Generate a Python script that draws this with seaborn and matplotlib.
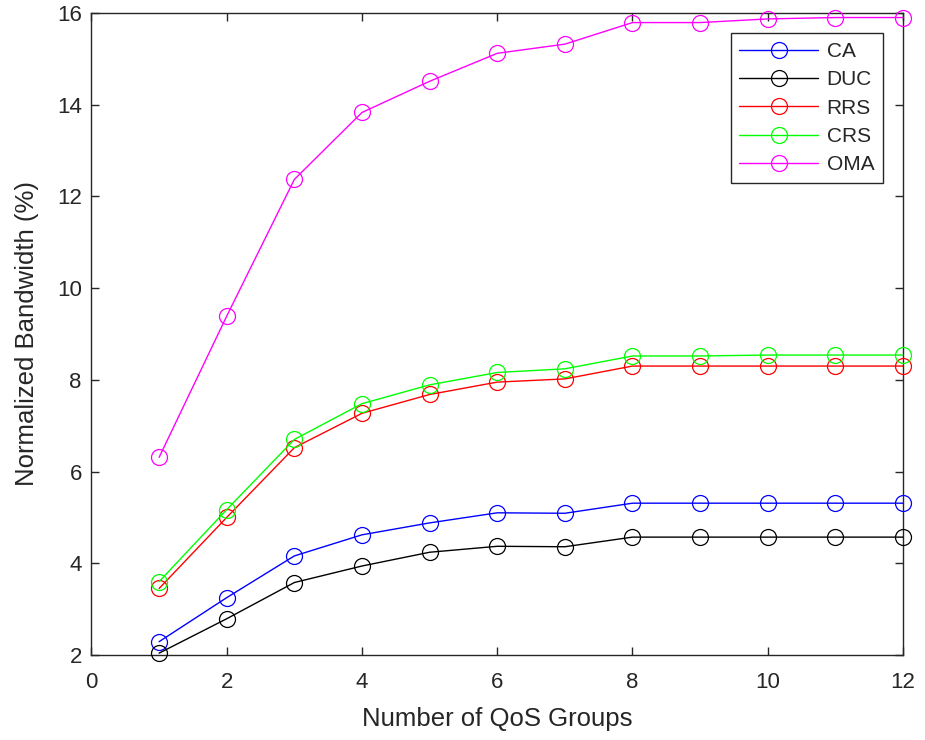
import numpy as np
import pandas as pd
import matplotlib
matplotlib.use("Agg")
import matplotlib.pyplot as plt
import seaborn as sns

groups = [1, 2, 3, 4, 5, 6, 7, 8, 9, 10, 11, 12]
ca  = [2.29, 3.25, 4.16, 4.62, 4.88, 5.10, 5.09, 5.31, 5.31, 5.31, 5.31, 5.31]
duc = [2.04, 2.79, 3.58, 3.94, 4.24, 4.37, 4.36, 4.57, 4.57, 4.57, 4.57, 4.57]
rrs = [3.45, 5.00, 6.52, 7.27, 7.68, 7.95, 8.02, 8.30, 8.30, 8.30, 8.30, 8.30]
crs = [3.60, 5.17, 6.70, 7.48, 7.89, 8.16, 8.24, 8.52, 8.52, 8.54, 8.54, 8.54]
oma = [6.31, 9.39, 12.37, 13.83, 14.51, 15.12, 15.32, 15.79, 15.79, 15.87, 15.90, 15.90]

names = ["CA", "DUC", "RRS", "CRS", "OMA"]
series = [ca, duc, rrs, crs, oma]
colors = ["#0000ff", "#000000", "#ff0000", "#00ff00", "#ff00ff"]

xlabel = "Number of QoS Groups"
ylabel = "Normalized Bandwidth (%)"

df = pd.DataFrame({
    "groups": np.tile(groups, len(names)),
    "value": np.concatenate(series),
    "method": np.repeat(names, len(groups)),
})

sns.set_theme(style="ticks")
plt.rcParams["font.family"] = ["Liberation Sans", "DejaVu Sans"]
plt.rcParams["axes.edgecolor"] = "#262626"
plt.rcParams["xtick.color"] = "#262626"
plt.rcParams["ytick.color"] = "#262626"

fig = plt.figure(figsize=(9.25, 7.4), dpi=100)
ax = fig.add_axes([0.0989, 0.1149, 0.8773, 0.8676])

for name, c in zip(names, colors):
    sub = df[df["method"] == name]
    sns.lineplot(data=sub, x="groups", y="value", ax=ax, color=c, label=name,
                 marker="o", markersize=11.5, markerfacecolor="none",
                 markeredgecolor=c, markeredgewidth=0.9, linewidth=1.0,
                 clip_on=False)

ax.set_xlim(0, 12)
ax.set_ylim(2, 16)
ax.set_xticks(range(0, 13, 2))
ax.set_yticks(range(2, 17, 2))
ax.tick_params(direction="in", length=6, width=1, top=True, right=True,
               labelsize=16, labelcolor="#262626")
ax.tick_params(axis="x", pad=12)
ax.tick_params(axis="y", pad=7)
for s in ax.spines.values():
    s.set_linewidth(1.0)
    s.set_zorder(0.5)
ax.set_xlabel(xlabel, fontsize=18.5, color="#262626", labelpad=10)
ax.set_ylabel(ylabel, fontsize=18.5, color="#262626", labelpad=13)

leg = ax.legend(loc="upper right", bbox_to_anchor=(0.975, 0.968), borderaxespad=0,
                fontsize=15, frameon=True, fancybox=False, handlelength=3.8,
                handletextpad=0.4, labelspacing=0.45, borderpad=0.4)
leg.get_frame().set_edgecolor("#262626")
leg.get_frame().set_linewidth(1.0)
leg.get_frame().set_alpha(1)

fig.savefig("out.png", dpi=100)
